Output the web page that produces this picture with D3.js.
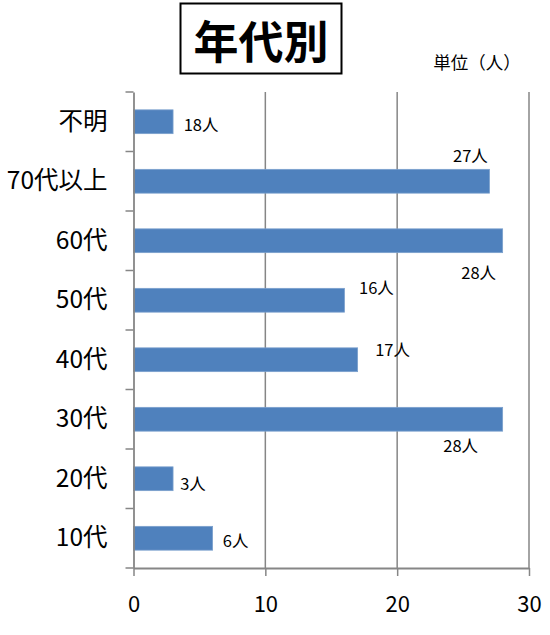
<!DOCTYPE html>
<html>
<head>
<meta charset="utf-8">
<script src="https://cdn.jsdelivr.net/npm/d3@7"></script>
<style>
  body { margin: 0; background: #fff; }
  text { font-family: "Noto Sans CJK JP", "Noto Sans", sans-serif; fill: #000; }
</style>
</head>
<body>
<div class="bar_chart_container"></div>
<script>
// データ（上から順）
const categories = ['不明', '70代以上', '60代', '50代', '40代', '30代', '20代', '10代']
const values     = [3, 27, 28, 16, 17, 28, 3, 6]
const valueLabels = ['18人', '27人', '28人', '16人', '17人', '28人', '3人', '6人']
const xTicks = [0, 10, 20, 30]

// ラベル位置の微調整（棒の先端・中心からのずれ）
const labelOffsets = [
  [28, 2], [-19, -26], [-24, 31], [32, -13],
  [35, -11], [-42, 26], [20, 4], [23, 2]
]

const svg_width = 550
const svg_height = 635
const plot = {left: 133.5, right: 529, top: 92, bottom: 568}
const axisColor = '#868686'

const svg = d3.select('.bar_chart_container').append('svg')
  .attr('width', svg_width).attr('height', svg_height)

const data = categories.map((c, i) => ({cat: c, value: values[i], label: valueLabels[i], off: labelOffsets[i]}))

// scale
const xScale = d3.scaleLinear([0, 30], [plot.left, plot.right])
const yScale = d3.scaleBand().domain(categories).range([plot.top, plot.bottom])
const barH = yScale.bandwidth() * 0.4

// 縦のグリッド線
svg.append('g').selectAll('line').data(xTicks.filter(d => d > 0)).join('line')
  .attr('x1', d => xScale(d)).attr('x2', d => xScale(d))
  .attr('y1', plot.top).attr('y2', plot.bottom)
  .attr('stroke', axisColor).attr('stroke-width', 1.5)

// 棒
svg.append('g').selectAll('rect').data(data).join('rect')
  .attr('x', xScale(0))
  .attr('y', d => yScale(d.cat) + (yScale.bandwidth() - barH) / 2)
  .attr('width', d => xScale(d.value) - xScale(0))
  .attr('height', barH)
  .attr('fill', '#4F81BD')
  .attr('stroke', '#7BA0CD').attr('stroke-width', 0.8)

// x軸
const xAxis = d3.axisBottom(xScale).tickValues(xTicks).tickSizeInner(8).tickSizeOuter(0).tickPadding(20)
const xAxisDraw = svg.append('g').attr('transform', `translate(0,${plot.bottom})`).call(xAxis)
xAxisDraw.select('.domain').attr('stroke', axisColor).attr('stroke-width', 1.8)
xAxisDraw.selectAll('.tick line').attr('stroke', axisColor).attr('stroke-width', 1.5)
xAxisDraw.selectAll('text').style('font-size', '22px').style('font-family', '"Noto Sans CJK JP", sans-serif')
  .attr('fill', '#000')

// y軸
const yAxis = d3.axisLeft(yScale).tickSize(0).tickPadding(26)
const yAxisDraw = svg.append('g').attr('transform', `translate(${plot.left},0)`).call(yAxis)
yAxisDraw.select('.domain').attr('stroke', axisColor).attr('stroke-width', 1.8)
yAxisDraw.selectAll('text').style('font-size', '24.5px').style('font-family', '"Noto Sans CJK JP", sans-serif')
  .attr('fill', '#000')

// y軸の目盛り（区切り位置）
const bounds = categories.map(c => yScale(c)).concat([plot.bottom])
svg.append('g').selectAll('line').data(bounds).join('line')
  .attr('x1', plot.left - 8).attr('x2', plot.left)
  .attr('y1', d => d).attr('y2', d => d)
  .attr('stroke', axisColor).attr('stroke-width', 1.5)

// データラベル
svg.append('g').selectAll('text').data(data).join('text')
  .attr('x', d => xScale(d.value) + d.off[0])
  .attr('y', d => yScale(d.cat) + yScale.bandwidth() / 2 + d.off[1])
  .attr('text-anchor', 'middle').attr('dominant-baseline', 'central')
  .style('font-size', '16.5px')
  .text(d => d.label)

// タイトル
svg.append('rect').attr('x', 180.5).attr('y', 3.5).attr('width', 161).attr('height', 70)
  .attr('fill', '#fff').attr('stroke', '#000').attr('stroke-width', 2)
svg.append('text').attr('x', 261).attr('y', 39)
  .attr('text-anchor', 'middle').attr('dominant-baseline', 'central')
  .style('font-size', '45px').style('font-weight', 'bold')
  .text('年代別')

// 単位
svg.append('text').attr('x', 477).attr('y', 61)
  .attr('text-anchor', 'middle').attr('dominant-baseline', 'central')
  .style('font-size', '17.5px')
  .text('単位（人）')
</script>
</body>
</html>
